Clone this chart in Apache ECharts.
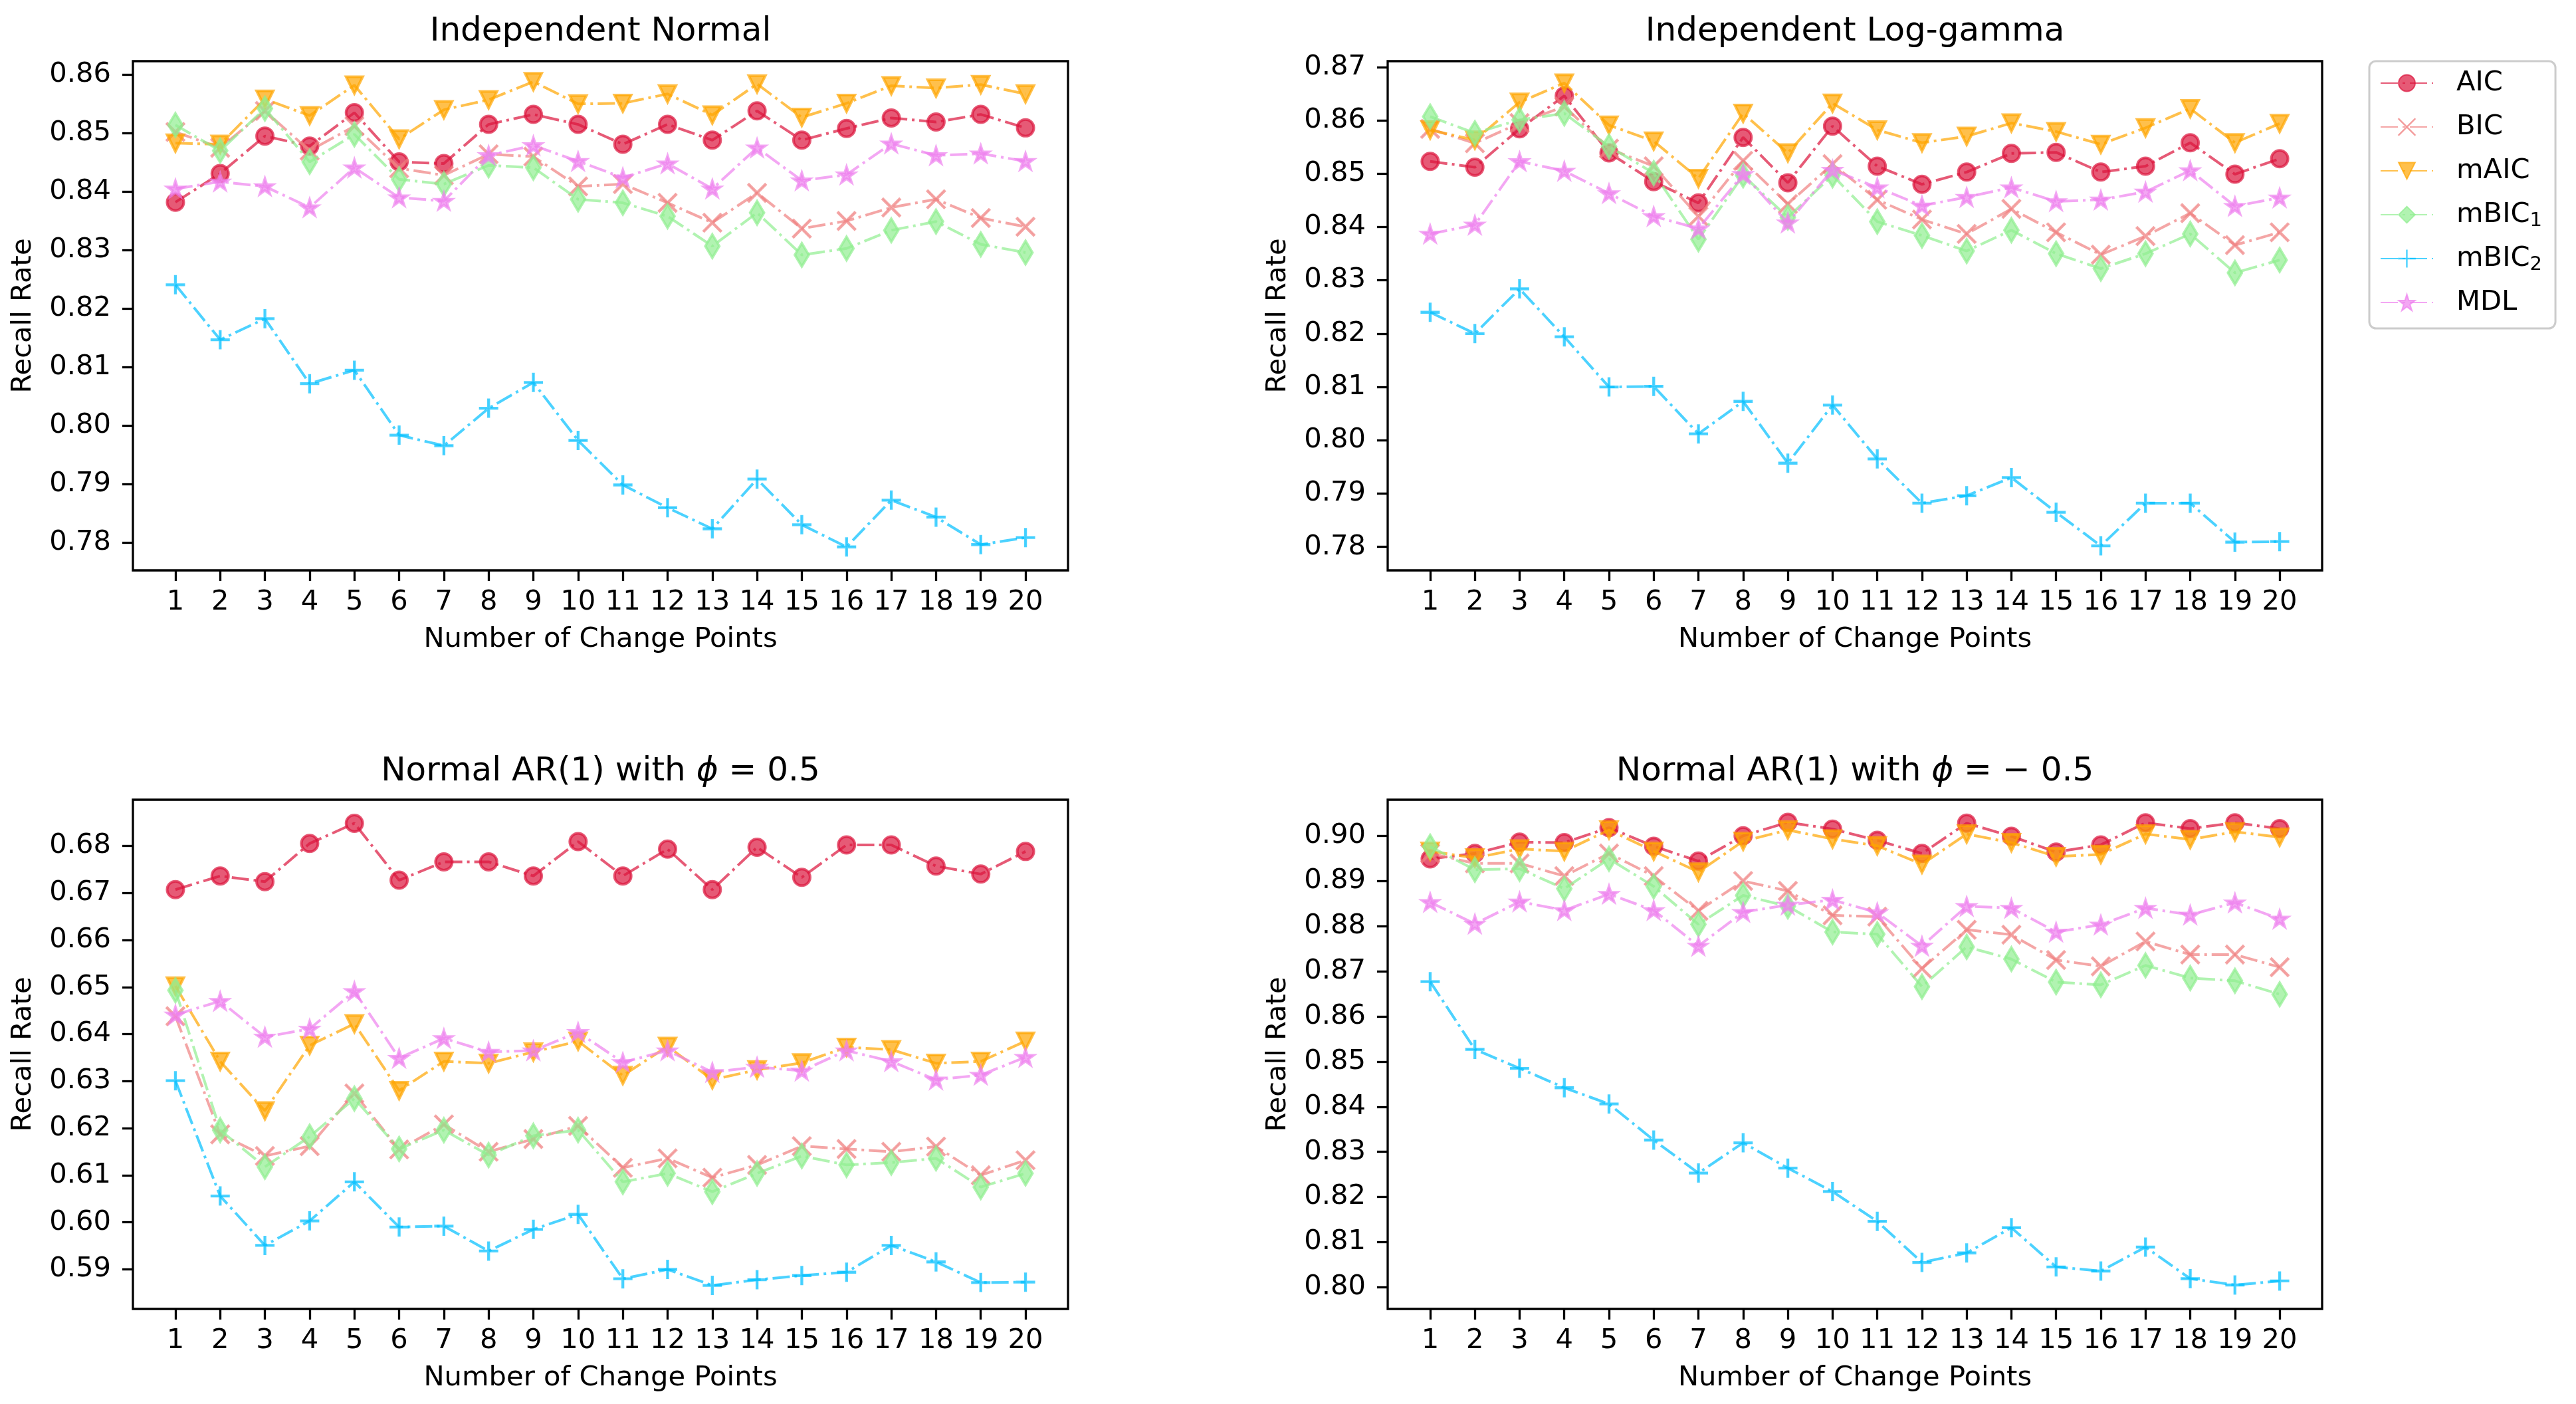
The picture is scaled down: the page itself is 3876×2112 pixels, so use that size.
<!DOCTYPE html>
<html>
<head>
<meta charset="utf-8">
<script src="https://cdn.jsdelivr.net/npm/echarts@6/dist/echarts.min.js"></script>
<style>
html,body{margin:0;padding:0;background:#ffffff;}
#chart{width:3876px;height:2112px;}
</style>
</head>
<body>
<div id="chart"></div>
<script>
// ---------------- data ----------------
const changePoints = [1,2,3,4,5,6,7,8,9,10,11,12,13,14,15,16,17,18,19,20];
const methods = ['AIC','BIC','mAIC','mBIC1','mBIC2','MDL'];

// Panel 1: Independent Normal
const normal_AIC   = [0.8382,0.8431,0.8495,0.8478,0.8535,0.8451,0.8448,0.8515,0.8532,0.8515,0.8481,0.8515,0.8488,0.8538,0.8488,0.8508,0.8526,0.8519,0.8532,0.8509];
const normal_BIC   = [0.8502,0.8475,0.8538,0.8470,0.8512,0.8440,0.8428,0.8464,0.8460,0.8409,0.8413,0.8381,0.8347,0.8398,0.8337,0.8350,0.8373,0.8387,0.8355,0.8340];
const normal_mAIC  = [0.8483,0.8481,0.8558,0.8530,0.8582,0.8490,0.8540,0.8557,0.8588,0.8550,0.8551,0.8567,0.8531,0.8584,0.8527,0.8551,0.8581,0.8577,0.8583,0.8567];
const normal_mBIC1 = [0.8514,0.8470,0.8542,0.8451,0.8498,0.8421,0.8413,0.8445,0.8441,0.8387,0.8381,0.8358,0.8307,0.8364,0.8292,0.8303,0.8334,0.8349,0.8310,0.8296];
const normal_mBIC2 = [0.8241,0.8147,0.8183,0.8072,0.8095,0.7984,0.7966,0.8030,0.8074,0.7975,0.7899,0.7860,0.7824,0.7909,0.7831,0.7793,0.7873,0.7844,0.7797,0.7809];
const normal_MDL   = [0.8405,0.8417,0.8409,0.8373,0.8441,0.8390,0.8384,0.8462,0.8479,0.8452,0.8424,0.8448,0.8405,0.8475,0.8419,0.8429,0.8482,0.8462,0.8465,0.8452];

// Panel 2: Independent Log-gamma
const lgamma_AIC   = [0.8523,0.8512,0.8584,0.8646,0.8539,0.8485,0.8445,0.8568,0.8483,0.8589,0.8514,0.8480,0.8503,0.8538,0.8540,0.8503,0.8514,0.8558,0.8499,0.8528];
const lgamma_BIC   = [0.8584,0.8557,0.8595,0.8626,0.8547,0.8514,0.8420,0.8524,0.8443,0.8518,0.8451,0.8414,0.8387,0.8434,0.8390,0.8348,0.8383,0.8426,0.8366,0.8390];
const lgamma_mAIC  = [0.8582,0.8563,0.8634,0.8670,0.8591,0.8561,0.8491,0.8613,0.8539,0.8632,0.8582,0.8558,0.8570,0.8595,0.8579,0.8555,0.8586,0.8622,0.8558,0.8594];
const lgamma_mBIC1 = [0.8607,0.8576,0.8601,0.8613,0.8551,0.8501,0.8377,0.8497,0.8418,0.8497,0.8410,0.8384,0.8355,0.8394,0.8350,0.8322,0.8350,0.8387,0.8314,0.8338];
const lgamma_mBIC2 = [0.8240,0.8200,0.8284,0.8194,0.8100,0.8101,0.8012,0.8073,0.7957,0.8066,0.7965,0.7882,0.7896,0.7930,0.7865,0.7802,0.7882,0.7882,0.7809,0.7810];
const lgamma_MDL   = [0.8387,0.8404,0.8523,0.8505,0.8463,0.8420,0.8397,0.8499,0.8408,0.8507,0.8474,0.8440,0.8456,0.8474,0.8448,0.8451,0.8466,0.8506,0.8439,0.8455];

// Panel 3: Normal AR(1), phi = 0.5
const arpos_AIC   = [0.6707,0.6736,0.6724,0.6805,0.6848,0.6727,0.6766,0.6766,0.6736,0.6809,0.6736,0.6793,0.6707,0.6797,0.6733,0.6802,0.6802,0.6757,0.6740,0.6788];
const arpos_BIC   = [0.6438,0.6187,0.6141,0.6162,0.6274,0.6155,0.6208,0.6150,0.6177,0.6205,0.6116,0.6136,0.6095,0.6122,0.6162,0.6156,0.6150,0.6161,0.6100,0.6132];
const arpos_mAIC  = [0.6502,0.6342,0.6237,0.6376,0.6422,0.6280,0.6342,0.6338,0.6362,0.6385,0.6312,0.6374,0.6303,0.6324,0.6339,0.6372,0.6367,0.6338,0.6342,0.6385];
const arpos_mBIC1 = [0.6493,0.6196,0.6118,0.6182,0.6263,0.6156,0.6196,0.6143,0.6184,0.6196,0.6086,0.6104,0.6065,0.6104,0.6141,0.6122,0.6127,0.6136,0.6075,0.6104];
const arpos_mBIC2 = [0.6301,0.6056,0.5951,0.6003,0.6086,0.5990,0.5992,0.5939,0.5985,0.6017,0.5880,0.5900,0.5866,0.5878,0.5887,0.5894,0.5951,0.5916,0.5872,0.5873];
const arpos_MDL   = [0.6441,0.6470,0.6394,0.6411,0.6491,0.6349,0.6391,0.6362,0.6365,0.6404,0.6340,0.6365,0.6319,0.6330,0.6322,0.6365,0.6342,0.6303,0.6313,0.6351];

// Panel 4: Normal AR(1), phi = -0.5
const arneg_AIC   = [0.8949,0.8961,0.8986,0.8985,0.9018,0.8977,0.8944,0.9000,0.9030,0.9015,0.8990,0.8961,0.9028,0.8999,0.8964,0.8980,0.9029,0.9016,0.9029,0.9016];
const arneg_BIC   = [0.8961,0.8939,0.8939,0.8911,0.8961,0.8911,0.8834,0.8900,0.8878,0.8824,0.8821,0.8706,0.8792,0.8781,0.8725,0.8711,0.8766,0.8737,0.8737,0.8709];
const arneg_mAIC  = [0.8966,0.8951,0.8971,0.8966,0.9013,0.8966,0.8920,0.8988,0.9013,0.8993,0.8978,0.8937,0.9004,0.8985,0.8954,0.8959,0.9004,0.8992,0.9009,0.8997];
const arneg_mBIC1 = [0.8976,0.8925,0.8927,0.8883,0.8949,0.8888,0.8804,0.8868,0.8844,0.8787,0.8782,0.8666,0.8754,0.8727,0.8676,0.8670,0.8713,0.8685,0.8679,0.8649];
const arneg_mBIC2 = [0.8677,0.8527,0.8485,0.8442,0.8406,0.8326,0.8253,0.8320,0.8264,0.8212,0.8146,0.8055,0.8076,0.8132,0.8045,0.8036,0.8089,0.8019,0.8005,0.8014];
const arneg_MDL   = [0.8853,0.8805,0.8854,0.8835,0.8871,0.8835,0.8756,0.8831,0.8847,0.8858,0.8830,0.8756,0.8844,0.8840,0.8787,0.8803,0.8840,0.8825,0.8852,0.8816];

// y tick labels per panel
const yTicksNormal = [0.78,0.79,0.80,0.81,0.82,0.83,0.84,0.85,0.86];
const yTicksLgamma = [0.78,0.79,0.80,0.81,0.82,0.83,0.84,0.85,0.86,0.87];
const yTicksArpos  = [0.59,0.60,0.61,0.62,0.63,0.64,0.65,0.66,0.67,0.68];
const yTicksArneg  = [0.80,0.81,0.82,0.83,0.84,0.85,0.86,0.87,0.88,0.89,0.90];
// y-axis limits
const yLimNormal = [0.7753, 0.8623];
const yLimLgamma = [0.7756, 0.8711];
const yLimArpos  = [0.5816, 0.6898];
const yLimArneg  = [0.7952, 0.9080];

const xLabel = 'Number of Change Points';
const yLabel = 'Recall Rate';

// ---------------- build ----------------
const FONT = 'DejaVu Sans';
const FS = 41.7;

const panels = [
  {title: 'Independent Normal', data: [normal_AIC,normal_BIC,normal_mAIC,normal_mBIC1,normal_mBIC2,normal_MDL], ticks: yTicksNormal, lim: yLimNormal},
  {title: 'Independent Log-gamma', data: [lgamma_AIC,lgamma_BIC,lgamma_mAIC,lgamma_mBIC1,lgamma_mBIC2,lgamma_MDL], ticks: yTicksLgamma, lim: yLimLgamma},
  {title: '{a|Normal AR(1) with }{b|\u03D5}{a| = 0.5}', data: [arpos_AIC,arpos_BIC,arpos_mAIC,arpos_mBIC1,arpos_mBIC2,arpos_MDL], ticks: yTicksArpos, lim: yLimArpos},
  {title: '{a|Normal AR(1) with }{b|\u03D5}{a| = \u2212 0.5}', data: [arneg_AIC,arneg_BIC,arneg_mAIC,arneg_mBIC1,arneg_mBIC2,arneg_MDL], ticks: yTicksArneg, lim: yLimArneg}
];

const grids = [
  {left: 200,  top: 92,   width: 1407, height: 766},
  {left: 2088, top: 92,   width: 1406, height: 766},
  {left: 200,  top: 1203, width: 1407, height: 766},
  {left: 2088, top: 1203, width: 1406, height: 766}
];
const titleTops = [23, 23, 1136, 1136];

function starPath() {
  let d = '';
  for (let i = 0; i < 10; i++) {
    const a = -Math.PI / 2 + i * Math.PI / 5;
    const r = (i % 2 === 0) ? 50 : 50 * 0.381966;
    const x = (50 + r * Math.cos(a)).toFixed(2);
    const y = (50 + r * Math.sin(a)).toFixed(2);
    d += (i === 0 ? 'M' : 'L') + x + ',' + y;
  }
  return 'path://' + d + 'Z';
}
const xPath = 'path://M0,1.5L1.5,0L100,98.5L98.5,100Z M98.5,0L100,1.5L1.5,100L0,98.5Z';
const plusPath = 'path://M0,49.3L100,49.3L100,50.7L0,50.7Z M49.3,0L50.7,0L50.7,100L49.3,100Z';

const styles = {
  AIC:   {color: '#DC143C', symbol: 'circle',   size: 25, rotate: 0},
  BIC:   {color: '#F08080', symbol: xPath,      size: 25, rotate: 0},
  mAIC:  {color: '#FFA500', symbol: 'triangle', size: 25, rotate: 180},
  mBIC1: {color: '#90EE90', symbol: 'diamond',  size: [21, 35], rotate: 0},
  mBIC2: {color: '#00BFFF', symbol: plusPath,   size: 25, rotate: 0},
  MDL:   {color: '#EE82EE', symbol: starPath(), size: 24, rotate: 0}
};

const xMin = changePoints[0] - 0.05 * (changePoints[changePoints.length-1] - changePoints[0]);
const xMax = changePoints[changePoints.length-1] + 0.05 * (changePoints[changePoints.length-1] - changePoints[0]);

const option = {
  backgroundColor: '#ffffff',
  animation: false,
  title: panels.map((p, i) => ({
    text: p.title,
    left: grids[i].left + grids[i].width / 2,
    top: titleTops[i],
    textAlign: 'center',
    padding: 0,
    textStyle: {
      fontFamily: FONT, fontSize: 50, fontWeight: 'normal', color: '#000',
      rich: {
        a: {fontFamily: FONT, fontSize: 50, color: '#000'},
        b: {fontFamily: FONT, fontSize: 50, fontStyle: 'italic', color: '#000'}
      }
    }
  })),
  legend: {
    orient: 'vertical',
    left: 3565, top: 92,
    padding: [9, 20, 15, 16],
    itemWidth: 79, itemHeight: 31, itemGap: 18,
    backgroundColor: 'rgba(255,255,255,0.8)',
    borderColor: '#cccccc', borderWidth: 3, borderRadius: 10,
    data: methods,
    formatter: function (name) {
      if (name === 'mBIC1') return '{n|mBIC}{s|1}';
      if (name === 'mBIC2') return '{n|mBIC}{s|2}';
      return '{n|' + name + '}';
    },
    textStyle: {
      fontFamily: FONT, fontSize: FS, color: '#000', lineHeight: 48,
      padding: [0, 0, 0, 30],
      rich: {
        n: {fontFamily: FONT, fontSize: FS, color: '#000', lineHeight: 48},
        s: {fontFamily: FONT, fontSize: 29, color: '#000', lineHeight: 24, verticalAlign: 'bottom'}
      }
    }
  },
  grid: grids.map(g => Object.assign({}, g, {show: true, borderColor: '#000', borderWidth: 3.3, backgroundColor: 'transparent', containLabel: false})),
  xAxis: grids.map((g, i) => ({
    type: 'value', gridIndex: i, min: xMin, max: xMax,
    name: xLabel, nameLocation: 'middle', nameGap: 83,
    nameTextStyle: {fontFamily: FONT, fontSize: FS, color: '#000'},
    axisLine: {show: false},
    splitLine: {show: false},
    axisTick: {show: true, length: 16, lineStyle: {color: '#000', width: 3.3}, customValues: changePoints},
    axisLabel: {fontFamily: FONT, fontSize: FS, color: '#000', margin: 27, customValues: changePoints, formatter: v => String(v)}
  })),
  yAxis: panels.map((p, i) => ({
    type: 'value', gridIndex: i, min: p.lim[0], max: p.lim[1],
    name: yLabel, nameLocation: 'middle', nameGap: 144,
    nameTextStyle: {fontFamily: FONT, fontSize: FS, color: '#000'},
    axisLine: {show: false},
    splitLine: {show: false},
    axisTick: {show: true, length: 16, lineStyle: {color: '#000', width: 3.3}, customValues: p.ticks},
    axisLabel: {fontFamily: FONT, fontSize: FS, color: '#000', margin: 33, customValues: p.ticks, formatter: v => Number(v).toFixed(2)}
  })),
  series: []
};

panels.forEach((p, i) => {
  methods.forEach((m, k) => {
    const st = styles[m];
    option.series.push({
      name: m,
      type: 'line',
      xAxisIndex: i, yAxisIndex: i,
      data: changePoints.map((x, j) => [x, p.data[k][j]]),
      symbol: st.symbol,
      symbolSize: st.size,
      symbolRotate: st.rotate,
      symbolKeepAspect: true,
      showAllSymbol: true,
      lineStyle: {color: st.color, width: 4, type: [26, 7, 4, 7], opacity: 0.7},
      itemStyle: {color: st.color, borderColor: st.color, borderWidth: 4, opacity: 0.7},
      emphasis: {disabled: true},
      z: 2 + k
    });
  });
});

const chart = echarts.init(document.getElementById('chart'), null, {renderer: 'canvas', width: 3876, height: 2112, devicePixelRatio: 1});
chart.setOption(option);
</script>
</body>
</html>
